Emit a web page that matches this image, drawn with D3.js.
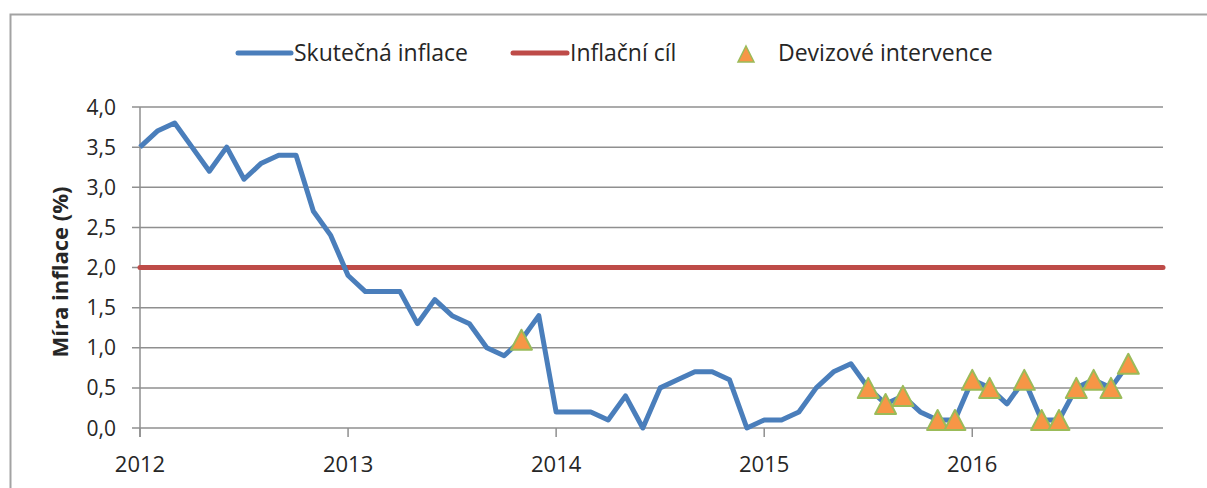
<!DOCTYPE html>
<html>
<head>
<meta charset="utf-8">
<script src="https://cdn.jsdelivr.net/npm/d3@7"></script>
<style>
  body { margin: 0; background: #fff; }
  svg { display: block; font-family: "Open Sans", "Noto Sans", sans-serif; }
</style>
</head>
<body>
<div id="chart"></div>
<script>
// monthly values, Jan 2012 .. Oct 2016
const inflation = [
  3.5, 3.7, 3.8, 3.5, 3.2, 3.5, 3.1, 3.3, 3.4, 3.4, 2.7, 2.4,
  1.9, 1.7, 1.7, 1.7, 1.3, 1.6, 1.4, 1.3, 1.0, 0.9, 1.1, 1.4,
  0.2, 0.2, 0.2, 0.1, 0.4, 0.0, 0.5, 0.6, 0.7, 0.7, 0.6, 0.0,
  0.1, 0.1, 0.2, 0.5, 0.7, 0.8, 0.5, 0.3, 0.4, 0.2, 0.1, 0.1,
  0.6, 0.5, 0.3, 0.6, 0.1, 0.1, 0.5, 0.6, 0.5, 0.8
];
const target = 2.0;
// month indices (from Jan 2012) with FX interventions
const interventions = [22, 42, 43, 44, 46, 47, 48, 49, 51, 52, 53, 54, 55, 56, 57];
const years = [2012, 2013, 2014, 2015, 2016];
const yTicks = [0, 0.5, 1, 1.5, 2, 2.5, 3, 3.5, 4];

// triangle centred on its bounding box
function triangle(w, h) {
    return `M0,${-h / 2} L${w / 2},${h / 2} L${-w / 2},${h / 2} Z`;
}

function init() {
    const width = 1207;
    const height = 488;
    const textColor = "#262626";
    const gridColor = "#8f8f8f";

    const svg = d3.select("#chart")
        .append("svg")
        .attr("width", width)
        .attr("height", height);

    // outer frame (cut off at right and bottom)
    svg.append("path")
        .attr("d", "M10.5,500 L10.5,14.5 L1220,14.5")
        .attr("fill", "none")
        .attr("stroke", "#a3a3a3")
        .attr("stroke-width", 2);

    const x = d3.scaleLinear().domain([0, 59]).range([140, 1163]);
    const y = d3.scaleLinear().domain([0, 4]).range([428, 107]);

    // gridlines
    svg.append("g")
        .selectAll("line")
        .data(yTicks)
        .enter().append("line")
        .attr("x1", 132)
        .attr("x2", 1163)
        .attr("y1", d => y(d))
        .attr("y2", d => y(d))
        .attr("stroke", gridColor)
        .attr("stroke-width", 1.5);

    // y axis line
    svg.append("line")
        .attr("x1", 140).attr("x2", 140)
        .attr("y1", y(4)).attr("y2", 437)
        .attr("stroke", gridColor)
        .attr("stroke-width", 1.5);

    // x ticks
    svg.append("g")
        .selectAll("line")
        .data(years)
        .enter().append("line")
        .attr("x1", d => x((d - 2012) * 12))
        .attr("x2", d => x((d - 2012) * 12))
        .attr("y1", 428)
        .attr("y2", 437)
        .attr("stroke", gridColor)
        .attr("stroke-width", 1.5);

    // y tick labels
    svg.append("g")
        .selectAll("text")
        .data(yTicks)
        .enter().append("text")
        .attr("x", 116)
        .attr("y", d => y(d))
        .attr("dy", "0.36em")
        .attr("text-anchor", "end")
        .attr("font-size", 21)
        .attr("fill", textColor)
        .text(d => d3.format(".1f")(d).replace(".", ","));

    // x tick labels
    svg.append("g")
        .selectAll("text")
        .data(years)
        .enter().append("text")
        .attr("x", d => x((d - 2012) * 12))
        .attr("y", 472)
        .attr("text-anchor", "middle")
        .attr("font-size", 22)
        .attr("fill", textColor)
        .text(d => d);

    // y axis title
    svg.append("text")
        .attr("transform", "translate(68,272) rotate(-90)")
        .attr("text-anchor", "middle")
        .attr("font-size", 22)
        .attr("font-weight", "bold")
        .attr("fill", textColor)
        .text("Míra inflace (%)");

    // target line
    svg.append("line")
        .attr("x1", x(0)).attr("x2", x(59))
        .attr("y1", y(target)).attr("y2", y(target))
        .attr("stroke", "#be4b48")
        .attr("stroke-width", 5)
        .attr("stroke-linecap", "round");

    // inflation line
    const line = d3.line()
        .x((d, i) => x(i))
        .y(d => y(d));

    svg.append("path")
        .datum(inflation)
        .attr("d", line)
        .attr("fill", "none")
        .attr("stroke", "#4a7ebb")
        .attr("stroke-width", 5)
        .attr("stroke-linejoin", "round");

    // intervention markers
    svg.append("g")
        .selectAll("path")
        .data(interventions)
        .enter().append("path")
        .attr("d", triangle(21, 20))
        .attr("transform", d => `translate(${x(d)},${y(inflation[d])})`)
        .attr("fill", "#f79646")
        .attr("stroke", "#9bbb59")
        .attr("stroke-width", 2)
        .attr("stroke-linejoin", "round");

    // legend
    const legend = svg.append("g").attr("font-size", 23).attr("fill", textColor);

    legend.append("line")
        .attr("x1", 238).attr("x2", 291).attr("y1", 53).attr("y2", 53)
        .attr("stroke", "#4a7ebb").attr("stroke-width", 5).attr("stroke-linecap", "round");
    legend.append("text").attr("x", 294).attr("y", 53).attr("dy", "0.36em")
        .text("Skutečná inflace");

    legend.append("line")
        .attr("x1", 513).attr("x2", 567).attr("y1", 53).attr("y2", 53)
        .attr("stroke", "#be4b48").attr("stroke-width", 5).attr("stroke-linecap", "round");
    legend.append("text").attr("x", 570).attr("y", 53).attr("dy", "0.36em")
        .text("Inflační cíl");

    legend.append("path")
        .attr("d", triangle(16, 16))
        .attr("transform", "translate(746,54)")
        .attr("fill", "#f79646")
        .attr("stroke", "#9bbb59")
        .attr("stroke-width", 1.5);
    legend.append("text").attr("x", 778).attr("y", 53).attr("dy", "0.36em")
        .text("Devizové intervence");
}
window.onload = init;
</script>
</body>
</html>
